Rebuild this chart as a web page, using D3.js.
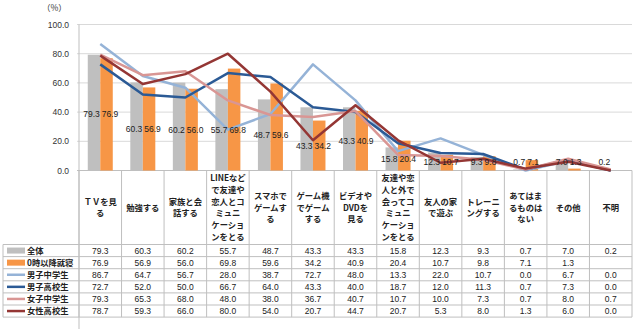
<!DOCTYPE html>
<html><head><meta charset="utf-8">
<script src="https://cdn.jsdelivr.net/npm/d3@7"></script>
<style>
html,body{margin:0;padding:0;background:#fff;}
svg{display:block;}
.num{font-family:"Liberation Sans",Arial,sans-serif;}
.jp{font-family:"Noto Sans CJK JP","Noto Sans",sans-serif;}
</style></head>
<body>
<svg id="chart" width="640" height="333"></svg>
<script>
// ---- data ----
const categoryLines = [
  ["ＴＶを見","る"],["勉強する"],["家族と会","話する"],
  ["LINEなど","で友達や","恋人とコ","ミュニ","ケーショ","ンをとる"],
  ["スマホで","ゲームす","る"],["ゲーム機","でゲーム","する"],
  ["ビデオや","DVDを","見る"],
  ["友達や恋","人と外で","会ってコ","ミュニ","ケーショ","ンをとる"],
  ["友人の家","で遊ぶ"],["トレーニ","ングする"],["あてはま","るものは","ない"],
  ["その他"],["不明"]
];
const categories = categoryLines.map(l => l.join(""));
const seriesNames = ["全体","0時以降就寝","男子中学生","男子高校生","女子中学生","女性高校生"];
const zentai   = [79.3,60.3,60.2,55.7,48.7,43.3,43.3,15.8,12.3,9.3,0.7,7.0,0.2];
const late     = [76.9,56.9,56.0,69.8,59.6,34.2,40.9,20.4,10.7,9.8,7.1,1.3,null];
const boysJH   = [86.7,64.7,56.7,28.0,38.7,72.7,48.0,13.3,22.0,10.7,0.0,6.7,0.0];
const boysHS   = [72.7,52.0,50.0,66.7,64.0,43.3,40.0,18.7,12.0,11.3,0.7,7.3,0.0];
const girlsJH  = [79.3,65.3,68.0,48.0,38.0,36.7,40.7,10.7,10.0,7.3,0.7,8.0,0.7];
const girlsHS  = [78.7,59.3,66.0,80.0,54.0,20.7,44.7,20.7,5.3,8.0,1.3,6.0,0.0];
const yTicks = [0,20,40,60,80,100];
const unitLabel = "（%）";

// ---- styles ----
const colors = ["#BFBFBF","#F79646","#95B3D7","#2B5A95","#D99694","#943634"];
const allSeries = [zentai, late, boysJH, boysHS, girlsJH, girlsHS];

const svg = d3.select("#chart");
const pLeft = 79, pRight = 632, pTop = 24.5, pBase = 170.5;
const x = d3.scaleBand().domain(categories).range([pLeft, pRight]);
const y = d3.scaleLinear().domain([0,100]).range([pBase, pTop]);
const bw = 12.5;
const cx = c => x(c) + x.bandwidth()/2;

// gridlines
svg.append("g").selectAll("line").data(yTicks).join("line")
  .attr("x1", pLeft-2).attr("x2", pRight)
  .attr("y1", d => y(d)).attr("y2", d => y(d))
  .attr("stroke", d => d===0 ? "#BFBFBF" : "#D9D9D9").attr("stroke-width",1);
svg.append("g").selectAll("text").data(yTicks).join("text")
  .attr("class","num").attr("x", pLeft-10).attr("y", d => y(d)+3)
  .attr("text-anchor","end").attr("font-size","8.5px").attr("fill","#333")
  .text(d => d3.format(".1f")(d));
svg.append("text").attr("class","jp").attr("x",42).attr("y",11)
  .attr("font-size","8.5px").attr("fill","#333").text(unitLabel);

// axis vertical line
svg.append("line").attr("x1",pLeft).attr("x2",pLeft).attr("y1",pTop).attr("y2",329)
  .attr("stroke","#BFBFBF");

// bars
const barG = svg.append("g");
barG.selectAll("rect.a").data(categories).join("rect")
  .attr("x", c => cx(c)-bw).attr("width", bw)
  .attr("y", (c,i) => y(zentai[i])).attr("height", (c,i) => pBase - y(zentai[i]))
  .attr("fill", colors[0]);
barG.selectAll("rect.b").data(categories.filter((c,i)=>late[i]!=null)).join("rect")
  .attr("x", c => cx(c)).attr("width", bw)
  .attr("y", c => y(late[categories.indexOf(c)]))
  .attr("height", c => pBase - y(late[categories.indexOf(c)]))
  .attr("fill", colors[1]);

// lines
const lineGen = d3.line().x((d,i) => cx(categories[i])).y(d => y(d));
[2,3,4,5].forEach(k => {
  svg.append("path").datum(allSeries[k]).attr("d", lineGen)
    .attr("fill","none").attr("stroke", colors[k]).attr("stroke-width",2.5)
    .attr("stroke-linejoin","round");
});

// data labels
const labG = svg.append("g").attr("class","num").attr("font-size","8.5px").attr("fill","#222");
categories.forEach((c,i) => {
  const vals = [zentai[i], late[i]].filter(v => v!=null);
  const ly = Math.min(y(d3.min(vals)/2), pBase-9) + 3;
  labG.append("text").attr("x", cx(c)-0.5).attr("y", ly).attr("text-anchor","end")
    .text(d3.format(".1f")(zentai[i]));
  if (late[i]!=null) labG.append("text").attr("x", cx(c)+1.5).attr("y", ly).attr("text-anchor","start")
    .text(d3.format(".1f")(late[i]));
});

// ---- table ----
const rowTop = 244.5, rowH = 12.1, tableLeft = 3;
const tg = svg.append("g");
const bounds = categories.map(c => x(c)).concat([pRight]);
tg.selectAll("line.v").data(bounds).join("line")
  .attr("x1", d=>d).attr("x2", d=>d).attr("y1", pBase).attr("y2", rowTop + rowH*6)
  .attr("stroke","#BFBFBF");
tg.append("line").attr("x1",tableLeft).attr("x2",tableLeft)
  .attr("y1",rowTop).attr("y2",rowTop+rowH*6).attr("stroke","#BFBFBF");
tg.selectAll("line.h").data(d3.range(7)).join("line")
  .attr("x1", tableLeft).attr("x2", pRight)
  .attr("y1", k => rowTop + k*rowH).attr("y2", k => rowTop + k*rowH)
  .attr("stroke","#BFBFBF");

// header
const headCenter = 207.5, lh = 11.8;
categories.forEach((c,i) => {
  const lines = categoryLines[i];
  const t = tg.append("text").attr("class","jp").attr("text-anchor","middle")
    .attr("font-size","8.3px").attr("fill","#222").attr("font-weight","bold");
  lines.forEach((ln,j) => {
    t.append("tspan").attr("x", cx(c))
      .attr("y", headCenter + (j - (lines.length-1)/2)*lh + 3).text(ln);
  });
});

// legend column + values
seriesNames.forEach((name,k) => {
  const cyy = rowTop + k*rowH + rowH/2;
  if (k < 2) {
    tg.append("rect").attr("x",7).attr("y",cyy-3).attr("width",18).attr("height",6).attr("fill",colors[k]);
  } else {
    tg.append("line").attr("x1",7).attr("x2",25).attr("y1",cyy).attr("y2",cyy)
      .attr("stroke",colors[k]).attr("stroke-width",2.5);
  }
  tg.append("text").attr("class","jp").attr("x",27).attr("y",cyy+3)
    .attr("font-size","8.3px").attr("font-weight","bold").attr("fill","#222").text(name);
  categories.forEach((c,i) => {
    const v = allSeries[k][i];
    if (v==null) return;
    tg.append("text").attr("class","num").attr("x",cx(c)).attr("y",cyy+3)
      .attr("text-anchor","middle").attr("font-size","8.5px").attr("fill","#222")
      .text(d3.format(".1f")(v));
  });
});
</script>
</body></html>
